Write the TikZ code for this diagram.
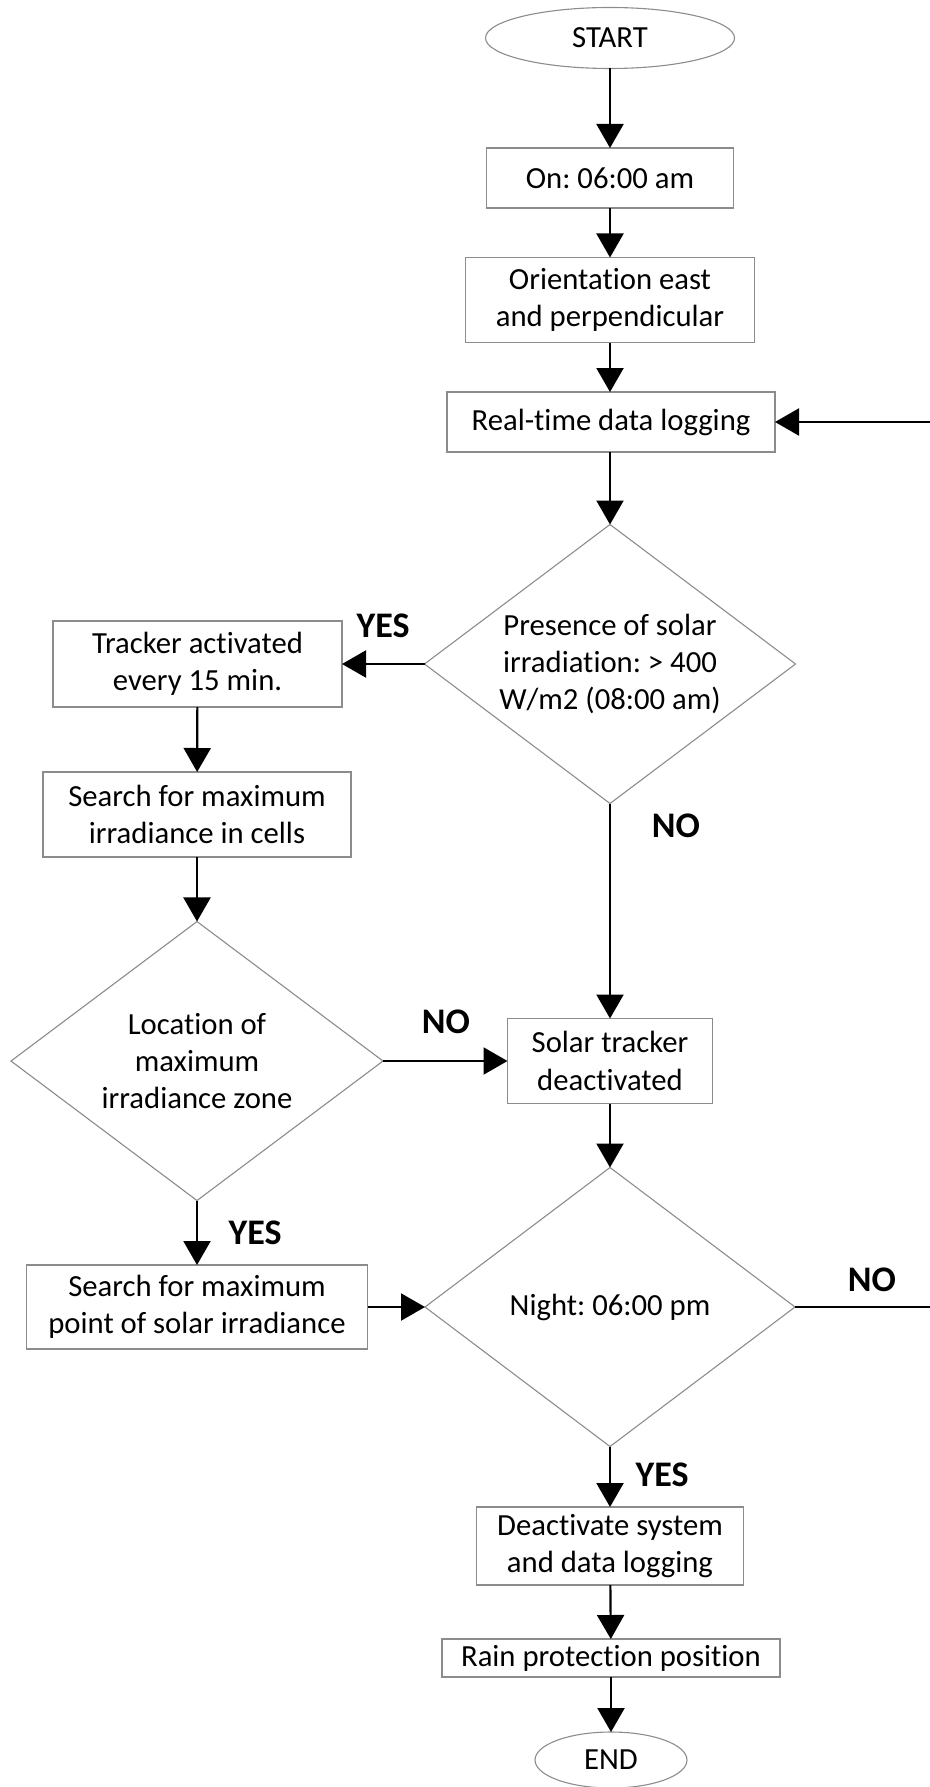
\documentclass[tikz,border=0pt]{standalone}
\usepackage{fontspec}
\setmainfont{Carlito}[Ligatures={NoCommon}]
\usetikzlibrary{shapes.geometric,arrows.meta}
\definecolor{boxgray}{HTML}{8C8C8C}
\frenchspacing
\tikzset{
  base/.style={draw=boxgray,line width=1.1pt,inner sep=0pt,outer sep=0pt,align=center,
    font=\fontsize{30.7pt}{37.4pt}\selectfont,text=black},
  procbox/.style={base,rectangle},
  termbox/.style={base,ellipse},
  decbox/.style={base,diamond,aspect=1.33},
  lbl/.style={font=\fontsize{36pt}{40pt}\selectfont\bfseries,inner sep=0pt},
  flow/.style={line width=2.2pt,-{Triangle[length=24pt,width=27pt]}},
  plain/.style={line width=2.2pt}
}
\begin{document}
\begin{tikzpicture}[x=1pt,y=-1pt]
\useasboundingbox (0,0) rectangle (929,1787);
% nodes
\node[termbox,minimum width=249pt,minimum height=61pt] (start) at (610,38) {START};
\node[procbox,minimum width=247pt,minimum height=60pt] (on) at (610,178) {On: 06:00 am};
\node[procbox,minimum width=289pt,minimum height=85pt] (orient) at (610,300) {Orientation east\\and perpendicular};
\node[procbox,minimum width=328pt,minimum height=60pt] (rt) at (611,422) {Real-time data logging};
\node[decbox,minimum width=371pt,minimum height=279pt] (d1) at (610,664) {Presence of solar\\irradiation: > 400\\W/m2 (08:00 am)};
\node[procbox,minimum width=289pt,minimum height=86pt] (track) at (197.5,664) {Tracker activated\\every 15 min.};
\node[procbox,minimum width=308pt,minimum height=85pt] (search1) at (197,814.5) {Search for maximum\\irradiance in cells};
\node[decbox,minimum width=372pt,minimum height=279pt] (d2) at (197,1061) {Location of\\maximum\\irradiance zone};
\node[procbox,minimum width=205pt,minimum height=85pt] (soff) at (610,1061) {Solar tracker\\deactivated};
\node[procbox,minimum width=341pt,minimum height=84pt] (search2) at (197,1307) {Search for maximum\\point of solar irradiance};
\node[decbox,minimum width=370pt,minimum height=279pt] (d3) at (610,1307) {Night: 06:00 pm};
\node[procbox,minimum width=267pt,minimum height=78pt] (deact) at (610,1546) {Deactivate system\\and data logging};
\node[procbox,minimum width=338pt,minimum height=38pt] (rain) at (611,1658) {Rain protection position};
\node[termbox,minimum width=152pt,minimum height=56pt] (end) at (611,1760) {END};
% labels
\node[lbl] (yes1) at (383,626) {YES};
\node[lbl] (no1) at (676,826) {NO};
\node[lbl] (no2) at (446,1022) {NO};
\node[lbl] (yes2) at (255,1233) {YES};
\node[lbl] (no3) at (872,1280) {NO};
\node[lbl] (yes3) at (662,1475) {YES};
% connectors
\draw[flow] (start) -- (on);
\draw[flow] (on) -- (orient);
\draw[flow] (orient.south) -- (orient.south |- rt.north);
\draw[flow] (rt.south -| d1.north) -- (d1.north);
\draw[flow] (d1.west) -- (track.east);
\draw[flow] (track) -- (search1);
\draw[flow] (search1) -- (d2);
\draw[flow] (d1.south) -- (soff.north);
\draw[flow] (d2.east) -- (soff.west);
\draw[flow] (soff) -- (d3);
\draw[flow] (d2.south) -- (search2.north);
\draw[flow] (search2.east) -- (d3.west);
\draw[flow] (d3.south) -- (deact.north);
\draw[flow] (deact) -- (rain);
\draw[flow] (rain) -- (end);
\coordinate (loopA) at (932,1307);
\coordinate (loopB) at (932,422);
\draw[flow] (d3.east) -- (loopA) -- (loopB) -- (rt.east);
\end{tikzpicture}
\end{document}
